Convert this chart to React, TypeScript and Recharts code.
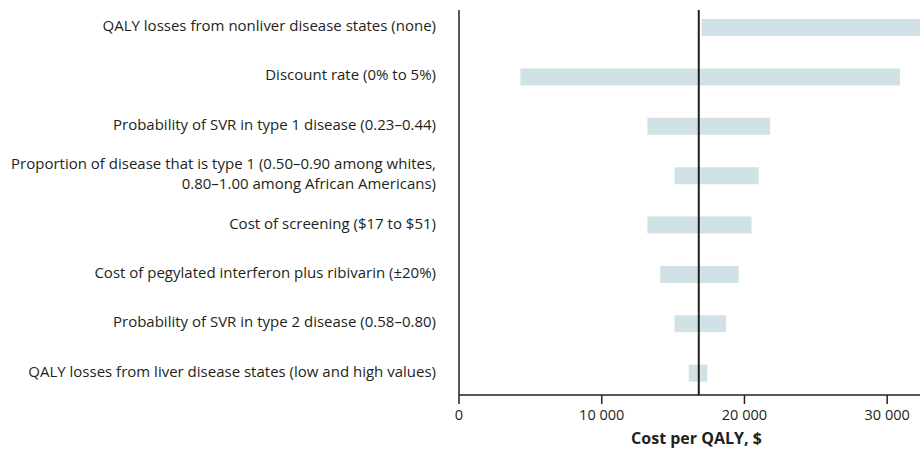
import React from "react";
import { BarChart, Bar, XAxis, YAxis, ReferenceLine } from "recharts";

const categories = [
  "QALY losses from nonliver disease states (none)",
  "Discount rate (0% to 5%)",
  "Probability of SVR in type 1 disease (0.23\u20130.44)",
  "Proportion of disease that is type 1 (0.50\u20130.90 among whites,\n0.80\u20131.00 among African Americans)",
  "Cost of screening ($17 to $51)",
  "Cost of pegylated interferon plus ribivarin (\u00b120%)",
  "Probability of SVR in type 2 disease (0.58\u20130.80)",
  "QALY losses from liver disease states (low and high values)",
];
const lowValues = [17000, 4300, 13200, 15100, 13200, 14100, 15100, 16100];
const highValues = [33000, 30900, 21800, 21000, 20500, 19600, 18700, 17400];
const baseCase = 16800;
const xTicks = [0, 10000, 20000, 30000];

const data = categories.map((name, i) => ({ name, range: [lowValues[i], highValues[i]] }));

const FONT = "'Open Sans', sans-serif";
const INK = "#231f20";

const fmt = (v: number) => (v === 0 ? "0" : String(v).replace(/\B(?=(\d{3})+(?!\d))/g, " "));

const YTick = (props: any) => {
  const { x, y, payload } = props;
  const lines = String(payload.value).split("\n");
  const lh = 20;
  const start = -((lines.length - 1) * lh) / 2 - 2;
  return (
    <text x={x} y={y} textAnchor="end" fontFamily={FONT} fontSize={15} fill={INK}>
      {lines.map((l, i) => (
        <tspan key={i} x={x} y={y + start + i * lh} dy="0.355em">
          {l}
        </tspan>
      ))}
    </text>
  );
};

export default function App() {
  return (
    <div style={{ position: "absolute", left: 0, top: 0, width: 920, height: 453, overflow: "hidden" }}>
      <BarChart
        width={920}
        height={453}
        data={data}
        layout="vertical"
        margin={{ top: 10, right: 0, bottom: 0, left: 0 }}
        barSize={17}
      >
        <XAxis
          type="number"
          domain={[0, 32300]}
          allowDataOverflow
          ticks={xTicks}
          tickFormatter={fmt}
          height={58}
          tickSize={9}
          tickMargin={6}
          axisLine={{ stroke: INK, strokeWidth: 1.5 }}
          tickLine={{ stroke: INK, strokeWidth: 1.5 }}
          tick={{ fill: INK, fontSize: 14.5, fontFamily: FONT }}
          label={{
            value: "Cost per QALY, $",
            position: "insideBottom",
            offset: 9,
            dx: 7,
            fill: INK,
            fontSize: 16,
            fontWeight: 700,
            fontFamily: FONT,
          }}
        />
        <YAxis
          type="category"
          dataKey="name"
          width={459}
          padding={{ top: -7, bottom: -3 }}
          tickLine={false}
          tickSize={0}
          tickMargin={23}
          axisLine={{ stroke: INK, strokeWidth: 1.5 }}
          tick={<YTick />}
          interval={0}
        />
        <Bar dataKey="range" fill="#d0e2e5" isAnimationActive={false} />
        <ReferenceLine x={baseCase} stroke={INK} strokeWidth={2} />
      </BarChart>
    </div>
  );
}
